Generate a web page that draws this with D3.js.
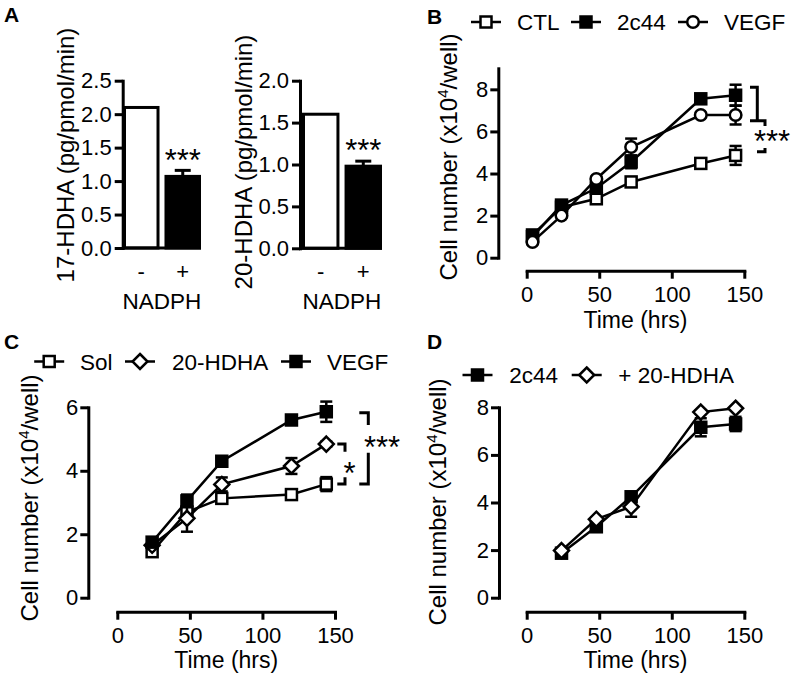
<!DOCTYPE html>
<html>
<head>
<meta charset="utf-8">
<script src="https://cdn.jsdelivr.net/npm/d3@7"></script>
<style>
  html, body { margin: 0; padding: 0; background: #fff; }
  svg { display: block; }
  text { font-family: "Liberation Sans", Arial, sans-serif; fill: #000; }
</style>
</head>
<body>
<svg id="chart" width="800" height="682"></svg>
<script>
// ---------------- DATA ----------------
const aCategories = ["-", "+"];
const a17Values = [2.10, 1.07];
const a17Errors = [0, 0.09];
const a20Values = [1.60, 0.98];
const a20Errors = [0, 0.06];
const a17Ticks = [0, 0.5, 1.0, 1.5, 2.0, 2.5];
const a20Ticks = [0, 0.5, 1.0, 1.5, 2.0];

const timeB = [4, 24, 48, 72, 120, 144];
const bCTL = [1.08, 2.40, 2.80, 3.60, 4.48, 4.86];
const bCTLErr = [0.10, 0.10, 0.10, 0.15, 0.15, 0.45];
const b2c44 = [1.00, 2.50, 3.30, 4.55, 7.55, 7.72];
const b2c44Err = [0.10, 0.10, 0.15, 0.30, 0.20, 0.50];
const bVEGF = [0.75, 2.00, 3.74, 5.26, 6.78, 6.78];
const bVEGFErr = [0.10, 0.10, 0.10, 0.40, 0.10, 0.45];

const timeCD = [24, 48, 72, 120, 144];
const cSol = [1.45, 2.70, 3.13, 3.25, 3.58];
const cSolErr = [0.08, 0.10, 0.10, 0.12, 0.22];
const cHDHA = [1.65, 2.50, 3.57, 4.15, 4.84];
const cHDHAErr = [0.08, 0.42, 0.22, 0.25, 0.08];
const cVEGF = [1.75, 3.05, 4.30, 5.60, 5.86];
const cVEGFErr = [0.08, 0.20, 0.10, 0.10, 0.32];

const d2c44 = [1.87, 2.98, 4.24, 7.16, 7.30];
const d2c44Err = [0.08, 0.10, 0.15, 0.38, 0.30];
const dHDHA = [1.98, 3.30, 3.82, 7.80, 7.96];
const dHDHAErr = [0.05, 0.08, 0.42, 0.08, 0.05];

const xTicksTime = [0, 50, 100, 150];
const yTicksB = [0, 2, 4, 6, 8];
const yTicksC = [0, 2, 4, 6];
const yTicksD = [0, 2, 4, 6, 8];

// ---------------- DRAWING ----------------
const svg = d3.select("#chart");
const FONT_TICK = 22, FONT_XTITLE = 23, FONT_YTITLE = 24, FONT_LEG = 22.5, LW = 3;

function yAxis(g, scale, x, ticks, fmt, labelGap) {
  const ax = g.append("g").attr("transform", `translate(${x},0)`)
    .call(d3.axisLeft(scale).tickValues(ticks).tickFormat(fmt).tickSize(8).tickSizeOuter(0).tickPadding(labelGap || 2));
  ax.select(".domain").attr("stroke", "#000").attr("stroke-width", LW).attr("stroke-linecap", "square");
  ax.selectAll(".tick line").attr("stroke", "#000").attr("stroke-width", LW);
  ax.selectAll(".tick text").attr("font-size", FONT_TICK).attr("font-family", "Liberation Sans, Arial, sans-serif");
  return ax;
}
function xAxisTime(g, scale, y) {
  const ax = g.append("g").attr("transform", `translate(0,${y})`)
    .call(d3.axisBottom(scale).tickValues(xTicksTime).tickSize(8).tickSizeOuter(0).tickPadding(4));
  ax.select(".domain").attr("stroke", "#000").attr("stroke-width", LW).attr("stroke-linecap", "square");
  ax.selectAll(".tick line").attr("stroke", "#000").attr("stroke-width", LW);
  ax.selectAll(".tick text").attr("font-size", FONT_TICK).attr("font-family", "Liberation Sans, Arial, sans-serif").attr("dy", "0.88em");
  return ax;
}
function yTitle(g, cx, cy, parts) {
  const t = g.append("text").attr("transform", `translate(${cx + 8.4},${cy}) rotate(-90)`)
    .attr("text-anchor", "middle").attr("font-size", FONT_YTITLE);
  if (typeof parts === "string") { t.text(parts); return; }
  t.append("tspan").text("Cell number (x10");
  t.append("tspan").attr("font-size", 15).attr("dy", -9).text("4");
  t.append("tspan").attr("dy", 9).text("/well)");
}
function panelLetter(x, y, s) {
  svg.append("text").attr("x", x).attr("y", y).attr("font-size", 21).attr("font-weight", "bold").text(s);
}
function stars(x, cy, s, fs) {
  svg.append("text").attr("x", x).attr("y", cy + 0.57 * fs).attr("text-anchor", "middle")
    .attr("font-size", fs).text(s);
}
function marker(g, type, x, y) {
  if (type === "sqOpen" || type === "sqFill") {
    g.append("rect").attr("x", x - 5.5).attr("y", y - 5.5).attr("width", 11).attr("height", 11)
      .attr("fill", type === "sqFill" ? "#000" : "#fff").attr("stroke", "#000").attr("stroke-width", 2.5);
  } else if (type === "circle") {
    g.append("circle").attr("cx", x).attr("cy", y).attr("r", 5.8)
      .attr("fill", "#fff").attr("stroke", "#000").attr("stroke-width", 2.5);
  } else if (type === "diamond") {
    const r = 7.5;
    g.append("path").attr("d", `M${x},${y - r}L${x + r},${y}L${x},${y + r}L${x - r},${y}Z`)
      .attr("fill", "#fff").attr("stroke", "#000").attr("stroke-width", 2.5).attr("stroke-linejoin", "miter");
  }
}
function series(g, xs, ys, xVals, vals, errs, type) {
  const line = d3.line().x((d, i) => xs(xVals[i])).y(d => ys(d));
  g.append("path").datum(vals).attr("d", line).attr("fill", "none").attr("stroke", "#000").attr("stroke-width", 2.5);
  vals.forEach((v, i) => {
    const x = xs(xVals[i]), y1 = ys(v + errs[i]), y0 = ys(v - errs[i]);
    g.append("line").attr("x1", x).attr("x2", x).attr("y1", y1).attr("y2", y0).attr("stroke", "#000").attr("stroke-width", 2.5);
    [y1, y0].forEach(yy => g.append("line").attr("x1", x - 6).attr("x2", x + 6).attr("y1", yy).attr("y2", yy)
      .attr("stroke", "#000").attr("stroke-width", 2.5));
  });
  vals.forEach((v, i) => marker(g, type, xs(xVals[i]), ys(v)));
}
function legend(items, cy) {
  const g = svg.append("g");
  items.forEach(it => {
    g.append("line").attr("x1", it.cx - 15).attr("x2", it.cx + 15).attr("y1", cy).attr("y2", cy)
      .attr("stroke", "#000").attr("stroke-width", 2.5);
    marker(g, it.type, it.cx, cy);
    g.append("text").attr("x", it.tx).attr("y", cy + 8).attr("font-size", FONT_LEG).text(it.label);
  });
}

// ---------- Panel A ----------
function barPanel(axisX, x0, x1, yBottom, yTop, maxV, ticks, values, errors, title, titleCx, titleCy) {
  const g = svg.append("g");
  const y = d3.scaleLinear().domain([0, maxV]).range([yBottom, yTop]);
  const x = d3.scaleBand().domain(aCategories).range([x0, x1]).paddingInner(0.12).paddingOuter(0);
  values.forEach((v, i) => {
    const c = aCategories[i];
    if (errors[i] > 0) {
      const cx = x(c) + x.bandwidth() / 2;
      g.append("line").attr("x1", cx).attr("x2", cx).attr("y1", y(v)).attr("y2", y(v + errors[i]))
        .attr("stroke", "#000").attr("stroke-width", 3);
      g.append("line").attr("x1", cx - 8).attr("x2", cx + 8).attr("y1", y(v + errors[i])).attr("y2", y(v + errors[i]))
        .attr("stroke", "#000").attr("stroke-width", 3);
    }
    g.append("rect").attr("x", x(c) + 1.5).attr("y", y(v)).attr("width", x.bandwidth() - 3).attr("height", y(0) - y(v))
      .attr("fill", i === 0 ? "#fff" : "#000").attr("stroke", "#000").attr("stroke-width", 3);
  });
  g.append("line").attr("x1", axisX).attr("x2", x1).attr("y1", y(0)).attr("y2", y(0))
    .attr("stroke", "#000").attr("stroke-width", LW);
  yAxis(g, y, axisX, ticks, d3.format(".1f"), 3);
  aCategories.forEach(c => {
    g.append("text").attr("x", x(c) + x.bandwidth() / 2).attr("y", yBottom + 31).attr("text-anchor", "middle")
      .attr("font-size", FONT_TICK).text(c);
  });
  g.append("text").attr("x", (x0 + x1) / 2).attr("y", yBottom + 61).attr("text-anchor", "middle")
    .attr("font-size", FONT_LEG).text("NADPH");
  yTitle(g, titleCx, titleCy, title);
  return { x, y };
}
const pa1 = barPanel(122.7, 123, 201, 248, 80.7, 2.5, a17Ticks, a17Values, a17Errors, "17-HDHA (pg/pmol/min)", 66, 155);
const pa2 = barPanel(300, 302, 382, 248.3, 80.7, 2.0, a20Ticks, a20Values, a20Errors, "20-HDHA (pg/pmol/min)", 244, 162);
stars(pa1.x("+") + pa1.x.bandwidth() / 2, 153, "***", 31);
stars(pa2.x("+") + pa2.x.bandwidth() / 2, 143, "***", 31);
panelLetter(4, 22, "A");

// ---------- Panel B ----------
{
  const g = svg.append("g");
  const x = d3.scaleLinear().domain([0, 150]).range([526.7, 744.3]);
  const y = d3.scaleLinear().domain([0, 9]).range([257.7, 68.3]);
  yAxis(g, y, 498.3, yTicksB, d3.format("d"), 2);
  xAxisTime(g, x, 270.7);
  g.append("text").attr("x", 635.5).attr("y", 328).attr("text-anchor", "middle").attr("font-size", FONT_XTITLE).text("Time (hrs)");
  yTitle(g, 449, 157, null);
  series(g, x, y, timeB, bCTL, bCTLErr, "sqOpen");
  series(g, x, y, timeB, b2c44, b2c44Err, "sqFill");
  series(g, x, y, timeB, bVEGF, bVEGFErr, "circle");
  g.append("path").attr("d", "M750,87.3H757.3V120.7H750M757.3,120.7H765V126M765,148V151.7H757")
    .attr("fill", "none").attr("stroke", "#000").attr("stroke-width", 3);
  stars(772, 134, "***", 31);
  legend([{ cx: 486, tx: 517, type: "sqOpen", label: "CTL" },
          { cx: 586, tx: 617, type: "sqFill", label: "2c44" },
          { cx: 693, tx: 724, type: "circle", label: "VEGF" }], 22);
  panelLetter(427, 24, "B");
}

// ---------- Panel C ----------
{
  const g = svg.append("g");
  const x = d3.scaleLinear().domain([0, 150]).range([117.3, 335]);
  const y = d3.scaleLinear().domain([0, 6]).range([597.7, 407.3]);
  yAxis(g, y, 88.3, yTicksC, d3.format("d"), 2);
  xAxisTime(g, x, 611.7);
  g.append("text").attr("x", 226.2).attr("y", 668.3).attr("text-anchor", "middle").attr("font-size", FONT_XTITLE).text("Time (hrs)");
  yTitle(g, 30, 498, null);
  series(g, x, y, timeCD, cSol, cSolErr, "sqOpen");
  series(g, x, y, timeCD, cHDHA, cHDHAErr, "diamond");
  series(g, x, y, timeCD, cVEGF, cVEGFErr, "sqFill");
  g.append("path").attr("d", "M359.3,412.7H368.3V425M368.3,452.7V484H359.3M337.3,444H345V451.7M345,477.3V484H337.3")
    .attr("fill", "none").attr("stroke", "#000").attr("stroke-width", 3);
  stars(382, 440, "***", 31);
  stars(349.5, 466, "*", 31);
  legend([{ cx: 49.2, tx: 80, type: "sqOpen", label: "Sol" },
          { cx: 140, tx: 172, type: "diamond", label: "20-HDHA" },
          { cx: 296, tx: 327, type: "sqFill", label: "VEGF" }], 361.5);
  panelLetter(4, 349, "C");
}

// ---------- Panel D ----------
{
  const g = svg.append("g");
  const x = d3.scaleLinear().domain([0, 150]).range([526.7, 744.3]);
  const y = d3.scaleLinear().domain([0, 8]).range([597.7, 407.3]);
  yAxis(g, y, 499, yTicksD, d3.format("d"), 2);
  xAxisTime(g, x, 611.7);
  g.append("text").attr("x", 635.5).attr("y", 668.3).attr("text-anchor", "middle").attr("font-size", FONT_XTITLE).text("Time (hrs)");
  yTitle(g, 437.5, 502, null);
  series(g, x, y, timeCD, d2c44, d2c44Err, "sqFill");
  series(g, x, y, timeCD, dHDHA, dHDHAErr, "diamond");
  legend([{ cx: 477.5, tx: 509.3, type: "sqFill", label: "2c44" },
          { cx: 586.7, tx: 618.3, type: "diamond", label: "+ 20-HDHA" }], 375);
  panelLetter(427, 349, "D");
}
</script>
</body>
</html>
